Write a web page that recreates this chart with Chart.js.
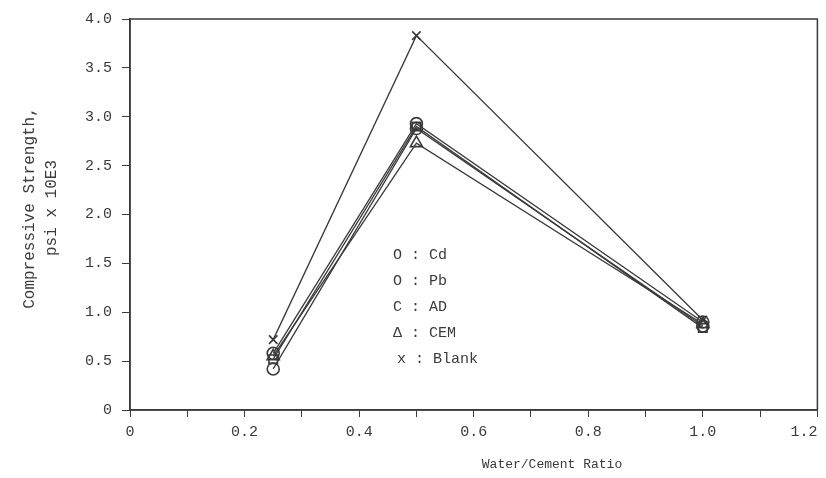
<!DOCTYPE html>
<html>
<head>
<meta charset="utf-8">
<script src="https://cdn.jsdelivr.net/npm/chart.js@4"></script>
<style>
  html, body { margin: 0; padding: 0; background: #fff; }
  #wrap { width: 826px; height: 478px; }
</style>
</head>
<body>
<div id="wrap"><canvas id="chart" width="826" height="478"></canvas></div>
<script>
// water/cement ratio of the samples
const wcRatio = [0.25, 0.5, 1.0];

// compressive strength, psi x 10E3
const cdValues = [0.42, 2.88, 0.86];
const pbValues = [0.58, 2.93, 0.9];
const adValues = [0.52, 2.9, 0.84];
const cemValues = [0.55, 2.73, 0.88];
const blankValues = [0.72, 3.83, 0.92];

const seriesNames = ["Cd", "Pb", "AD", "CEM", "Blank"];
const seriesMarks = ["O", "O", "C", "\u0394", "x"];

const xTitle = "Water/Cement Ratio";
const yTitle = ["Compressive Strength,", "psi x 10E3"];

const ink = "#3a3a3a";
const mono = "'Liberation Mono', 'DejaVu Sans Mono', monospace";

const toPoints = (vals) => wcRatio.map((x, i) => ({ x: x, y: vals[i] }));

const mk = (label, vals, style, radius) => ({
  label: label,
  data: toPoints(vals),
  borderColor: ink,
  borderWidth: 1.3,
  pointStyle: style,
  pointRadius: radius,
  pointBackgroundColor: "rgba(255,255,255,0)",
  pointBorderColor: ink,
  pointBorderWidth: 1.6,
  tension: 0,
});

// frame, axis titles and the in-plot legend
const decor = {
  id: "decor",
  afterDraw(chart) {
    const { ctx, chartArea: a } = chart;
    ctx.save();
    ctx.strokeStyle = ink;
    ctx.lineWidth = 1.5;
    ctx.strokeRect(a.left, a.top, a.right - a.left, a.bottom - a.top);

    ctx.fillStyle = ink;
    ctx.font = "13px " + mono;
    ctx.textAlign = "center";
    ctx.textBaseline = "middle";
    ctx.fillText(xTitle, 552, 465);

    ctx.save();
    ctx.translate(30, 208);
    ctx.rotate(-Math.PI / 2);
    ctx.font = "16px " + mono;
    ctx.fillText(yTitle[0], 0, 0);
    ctx.fillText(yTitle[1], 0, 22);
    ctx.restore();

    ctx.font = "15px " + mono;
    ctx.textAlign = "left";
    seriesNames.forEach((n, i) => {
      const y = 255 + i * 26;
      const x = i === 4 ? 397 : 393;
      ctx.fillText(seriesMarks[i] + " : " + n, x, y);
    });
    ctx.restore();
  },
};

new Chart(document.getElementById("chart"), {
  type: "line",
  data: {
    datasets: [
      mk("Cd", cdValues, "circle", 6),
      mk("Pb", pbValues, "circle", 6),
      mk("AD", adValues, "rect", 6),
      mk("CEM", cemValues, "triangle", 7),
      mk("Blank", blankValues, "crossRot", 6),
    ],
  },
  options: {
    responsive: false,
    animation: false,
    layout: { padding: { top: 16, right: 7, left: 0, bottom: 0 } },
    plugins: { legend: { display: false }, tooltip: { enabled: false } },
    scales: {
      x: {
        type: "linear",
        min: 0,
        max: 1.2,
        afterFit: (s) => { s.height = 68; s.paddingRight = 0; s.paddingLeft = 0; },
        border: { color: ink, width: 1.5 },
        grid: { display: true, drawOnChartArea: false, color: ink, tickLength: 7 },
        ticks: {
          stepSize: 0.1,
          autoSkip: false,
          maxRotation: 0,
          color: ink,
          padding: 6,
          font: { family: mono, size: 15 },
          // last label padded so it stays inside the page, as in the scan
          callback: (v, i) => (i % 2 ? "" : v === 0 ? "0" : v >= 1.2 ? "1.2   " : v.toFixed(1)),
        },
      },
      y: {
        min: 0,
        max: 4,
        afterFit: (s) => { s.width = 130; },
        border: { color: ink, width: 1.5 },
        grid: { display: true, drawOnChartArea: false, color: ink, tickLength: 8 },
        ticks: {
          stepSize: 0.5,
          color: ink,
          padding: 10,
          font: { family: mono, size: 15 },
          callback: (v) => (v === 0 ? "0" : v.toFixed(1)),
        },
      },
    },
  },
  plugins: [decor],
});
</script>
</body>
</html>
